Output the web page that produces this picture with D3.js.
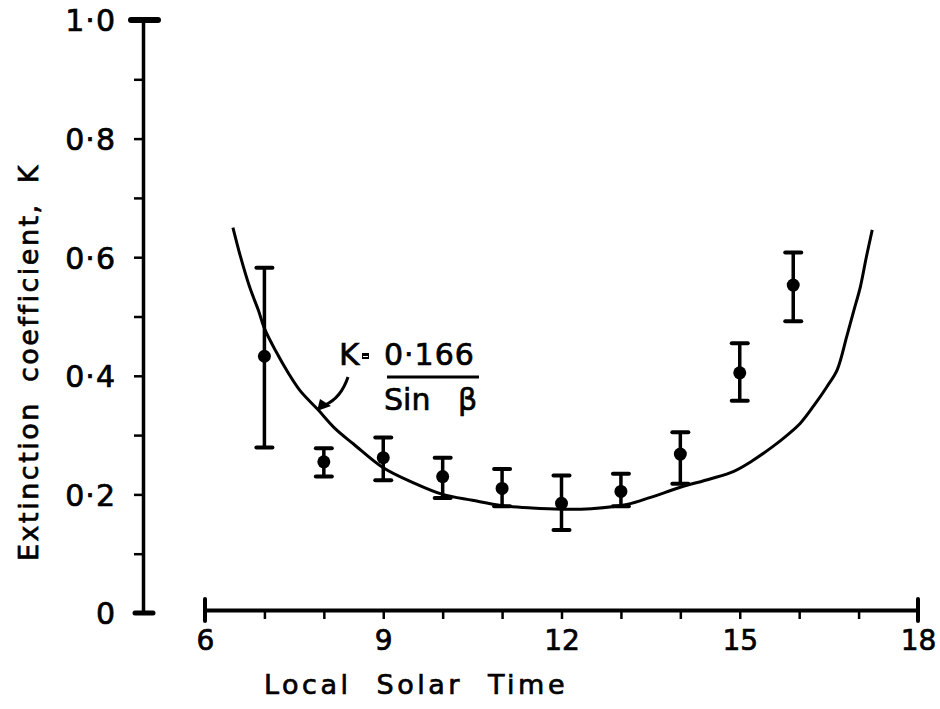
<!DOCTYPE html>
<html><head><meta charset="utf-8">
<script src="https://cdn.jsdelivr.net/npm/d3@7"></script>
<style>
body{margin:0;background:#fff;}
svg{display:block;}
text{font-family:"DejaVu Sans",Arial,sans-serif;fill:#000;stroke:#000;stroke-width:0.7px;}
</style></head>
<body>
<svg id="c" width="940" height="709"></svg>
<script>
// observed hourly means with error bars
const hours = [7, 8, 9, 10, 11, 12, 13, 14, 15, 15.9];
const kMean = [0.433, 0.255, 0.262, 0.230, 0.210, 0.185, 0.205, 0.268, 0.405, 0.553];
const kHigh = [0.582, 0.278, 0.296, 0.262, 0.243, 0.232, 0.235, 0.305, 0.455, 0.608];
const kLow  = [0.279, 0.230, 0.224, 0.194, 0.180, 0.140, 0.180, 0.218, 0.358, 0.492];
// fitted curve K = 0.166 / sin(beta)
const curveHours = [6.47,6.6,6.75,6.9,7.0,7.2,7.4,7.6,7.9,8.2,8.5,9.0,9.5,10.0,10.5,11.0,11.5,12.0,12.5,13.1,13.5,14.0,14.5,14.9,15.2,15.56,15.8,16.02,16.25,16.47,16.64,16.8,16.92,17.03,17.13,17.23];
const curveK = [0.65,0.60,0.55,0.51,0.48,0.44,0.405,0.375,0.343,0.31,0.285,0.245,0.22,0.20,0.19,0.181,0.177,0.175,0.176,0.183,0.195,0.212,0.226,0.239,0.256,0.281,0.30,0.32,0.35,0.382,0.41,0.466,0.51,0.55,0.60,0.646];
// axis ticks
const xTicks = [6,7,8,9,10,11,12,13,14,15,16,17,18];
const xLabels = [6,9,12,15,18];
const yTicks = [0,0.1,0.2,0.3,0.4,0.5,0.6,0.7,0.8,0.9,1.0];
const yLabels = [0,0.2,0.4,0.6,0.8,1.0];

const svg = d3.select("#c");
const x = d3.scaleLinear().domain([6,18]).range([205,918]);
const y = d3.scaleLinear().domain([0,1]).range([613,20]);
const yAxisX = 143, xAxisY = 610;
const fmt = v => v === 0 ? "0" : d3.format(".1f")(v).replace(".", "·");
const FD = "DejaVu Sans, Arial, sans-serif";
const FL = "Liberation Sans, Arial, sans-serif";

// Y axis
const ya = svg.append("g").attr("transform",`translate(${yAxisX},0)`)
  .call(d3.axisLeft(y).tickValues(yTicks).tickSize(9).tickSizeOuter(0)
    .tickFormat(d => yLabels.some(l => Math.abs(l-d)<1e-9) ? fmt(d) : ""));
ya.select(".domain").attr("stroke","#000").attr("stroke-width",3.5);
ya.selectAll(".tick line").attr("stroke","#000").attr("stroke-width",2.5);
ya.selectAll(".tick text").attr("x",-27).attr("dy","0.36em").attr("font-size",30)
  .attr("letter-spacing",1).attr("font-family",FD);
// caps
ya.append("line").attr("x1",-12).attr("x2",15).attr("y1",y(1)).attr("y2",y(1)).attr("stroke","#000").attr("stroke-width",6).attr("stroke-linecap","round");
ya.append("line").attr("x1",-8).attr("x2",10).attr("y1",y(0)).attr("y2",y(0)).attr("stroke","#000").attr("stroke-width",5).attr("stroke-linecap","round");

// X axis
const xa = svg.append("g").attr("transform",`translate(0,${xAxisY})`)
  .call(d3.axisBottom(x).tickValues(xTicks).tickSize(9).tickSizeOuter(0)
    .tickFormat(d => xLabels.includes(d) ? d : ""));
xa.select(".domain").attr("stroke","#000").attr("stroke-width",4);
xa.selectAll(".tick line").attr("stroke","#000").attr("stroke-width",2.5);
xa.selectAll(".tick text").attr("y",20).attr("font-size",28).attr("font-family",FL);
[6,18].forEach(v => xa.append("line").attr("x1",x(v)).attr("x2",x(v)).attr("y1",-11).attr("y2",11).attr("stroke","#000").attr("stroke-width",4).attr("stroke-linecap","round"));

// axis titles
svg.append("text").attr("x",416).attr("y",694).attr("text-anchor","middle")
  .attr("font-size",27).attr("letter-spacing",3.5).attr("word-spacing",13).text("Local Solar Time");
svg.append("text").attr("transform","translate(38,362) rotate(-90)").attr("text-anchor","middle")
  .attr("font-size",27).attr("letter-spacing",2.5).attr("word-spacing",8).text("Extinction coefficient, K");

// curve
const pts = curveHours.map((h,i)=>[h,curveK[i]]);
svg.append("path").datum(pts)
  .attr("d", d3.line().x(d=>x(d[0])).y(d=>y(d[1])).curve(d3.curveCatmullRom.alpha(0.5)))
  .attr("fill","none").attr("stroke","#000").attr("stroke-width",3);

// error bars
const g = svg.append("g");
hours.forEach((h,i)=>{
  const cx = x(h);
  g.append("line").attr("x1",cx).attr("x2",cx).attr("y1",y(kHigh[i])).attr("y2",y(kLow[i])).attr("stroke","#000").attr("stroke-width",3.5);
  [kHigh[i],kLow[i]].forEach(v=> g.append("line").attr("x1",cx-8).attr("x2",cx+8).attr("y1",y(v)).attr("y2",y(v)).attr("stroke","#000").attr("stroke-width",4).attr("stroke-linecap","round"));
  g.append("circle").attr("cx",cx).attr("cy",y(kMean[i])).attr("r",6.5).attr("fill","#000");
});

// equation annotation
const ax = 339, ay = 365;
const eq = svg.append("g");
eq.append("text").attr("x",ax).attr("y",ay).attr("font-size",31).text("K");
eq.append("rect").attr("x",ax+23).attr("y",ay-12).attr("width",7).attr("height",6).attr("fill","#000");
eq.append("rect").attr("x",ax+24).attr("y",ay-9).attr("width",5).attr("height",1).attr("fill","#fff");
eq.append("text").attr("x",ax+45).attr("y",ay).attr("font-size",30).attr("letter-spacing",1).text("0·166");
eq.append("line").attr("x1",ax+48).attr("x2",ax+140).attr("y1",ay+12).attr("y2",ay+12).attr("stroke","#000").attr("stroke-width",3);
eq.append("text").attr("x",ax+45).attr("y",ay+45).attr("font-size",30).text("Sin");
eq.append("text").attr("x",ax+119).attr("y",ay+45).attr("font-size",30).text("β");
// arrow
const tipX = 317, tipY = 410;
eq.append("path").attr("d",`M${ax+9},${ay+12} Q${ax+2},${ay+33} ${tipX+8},${tipY-5}`)
  .attr("fill","none").attr("stroke","#000").attr("stroke-width",3);
eq.append("path").attr("d",`M${tipX},${tipY+1} L${tipX+3},${tipY-11} L${tipX+14},${tipY-4} Z`).attr("fill","#000");
</script>
</body></html>
